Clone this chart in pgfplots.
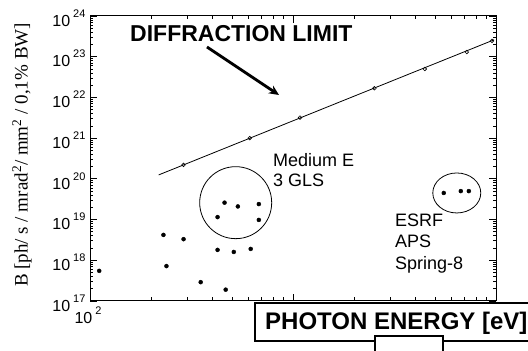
\documentclass[border=0pt]{standalone}
\usepackage{fontspec}
\setmainfont{Liberation Sans}
\newfontfamily\seriffont{Liberation Serif}
\usepackage{pgfplots}
\pgfplotsset{compat=1.18}
\usetikzlibrary{arrows.meta}
\newcommand{\tl}[1]{{\fontsize{16}{16}\selectfont 10\hspace{3pt}\raisebox{9pt}{\fontsize{11}{11}\selectfont #1}}}
\begin{document}
\begin{tikzpicture}
\useasboundingbox (-90pt,-50pt) rectangle (438pt,301pt);
\begin{axis}[
  at={(0pt,0pt)}, anchor=south west,
  scale only axis, width=406pt, height=285pt,
  xmode=log, ymode=log,
  xmin=100, xmax=10000, ymin=1e17, ymax=1e24,
  xtick={100,1000,10000}, xticklabels={\tl{2},,},
  ytick={1e17,1e18,1e19,1e20,1e21,1e22,1e23,1e24},
  yticklabels={\tl{17},\tl{18},\tl{19},\tl{20},\tl{21},\tl{22},\tl{23},\tl{24}},
  tick align=inside, major tick length=7pt, minor tick length=3.5pt,
  axis line style={line width=1pt},
  every tick/.style={black, line width=0.7pt},
  yticklabel style={xshift=-1pt, yshift=-2pt},
  xticklabel style={yshift=-2pt, xshift=-2pt},
  clip=false,
]
% diffraction limit line
\addplot[black, line width=0.8pt] coordinates {(218,1.25e20) (9780,2.6e23)};
% open circles on the line
\addplot[only marks, mark=o, mark size=1.8pt, mark options={line width=0.6pt, fill=white}] coordinates {
(289,2.2e20) (612,1.0e21) (1083,3.2e21) (2518,1.68e22) (4460,5.0e22) (7180,1.3e23) (9550,2.45e23)};
% filled dots
\addplot[only marks, mark=*, mark size=2pt, black] coordinates {
(111,5.5e17) (230,4.2e18) (238,7.2e17) (289,3.3e18) (351,2.9e17) (466,1.9e17)
(425,1.8e18) (511,1.6e18) (619,1.9e18) (425,1.15e19) (460,2.6e19) (535,2.1e19)
(679,2.4e19) (679,9.8e18) (5530,4.5e19) (6710,5.0e19) (7350,5.0e19)};
\draw[line width=0.8pt] (axis cs:522,2.6e19) circle [radius=36pt];
\draw[line width=0.8pt] (axis cs:6410,4.5e19) ellipse [x radius=24pt, y radius=20pt];
\end{axis}
\node[anchor=base west, inner sep=0pt, font=\fontsize{23}{23}\selectfont\bfseries] at (40pt,259pt) {DIFFRACTION LIMIT};
\draw[line width=2.8pt, -{Stealth[length=10pt,width=9pt]}] (117pt,254pt) -- (189pt,206pt);
\node[anchor=base west, inner sep=0pt, font=\fontsize{18}{18}\selectfont] at (183pt,134pt) {Medium E};
\node[anchor=base west, inner sep=0pt, font=\fontsize{18}{18}\selectfont] at (183pt,114pt) {3 GLS};
\node[anchor=base west, inner sep=0pt, font=\fontsize{18}{18}\selectfont] at (305pt,74pt) {ESRF};
\node[anchor=base west, inner sep=0pt, font=\fontsize{18}{18}\selectfont] at (305pt,53pt) {APS};
\node[anchor=base west, inner sep=0pt, font=\fontsize{18}{18}\selectfont] at (305pt,31pt) {Spring-8};
\node[rotate=90, inner sep=0pt, font=\seriffont\fontsize{19}{19}\selectfont] at (-68pt,146pt) {B [ph/ s / mrad\textsuperscript{2}/ mm\textsuperscript{2} / 0,1\% BW]};
% label box
\draw[line width=1.2pt, fill=white] (165pt,-2pt) rectangle (450pt,-40pt);
\node[anchor=base west, inner sep=0pt, font=\fontsize{24}{24}\selectfont\bfseries] at (175pt,-29pt) {PHOTON ENERGY [eV]};
\draw[line width=1.2pt, fill=white] (285pt,-60pt) -- (285pt,-35pt) -- (353pt,-35pt) -- (353pt,-60pt);
\end{tikzpicture}
\end{document}
